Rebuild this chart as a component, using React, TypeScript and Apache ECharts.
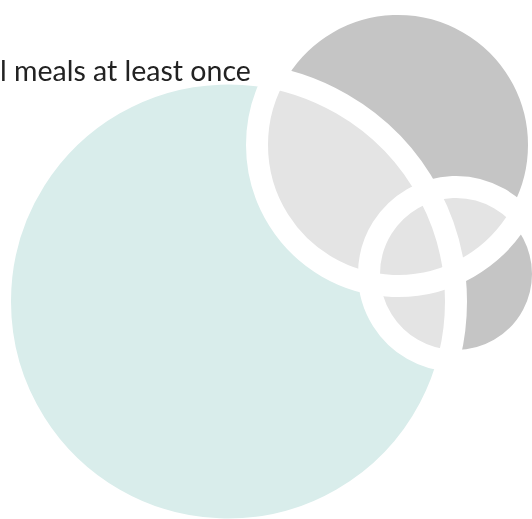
import React, { useEffect, useRef } from "react";
import * as echarts from "echarts";

// Sets of the Venn diagram (chart units: 1 unit = 1 px on both hidden axes)
const setNames = ["Set A", "Set B", "Set C"];
const setCenterX = [228, 398, 456];
const setCenterY = [301.5, 145, 274];
const setRadius = [228, 141, 87];
const titleText = "l meals at least once";

const ONLY_COLORS = ["#d9edeb", "#c5c5c5", "#c5c5c5"];
const OVERLAP_COLOR = "#e4e4e4";

type C = { cx: number; cy: number; r: number };

function lens(a: C, b: C): number[][] {
  const pts: number[][] = [];
  const N = 720;
  for (let k = 0; k < N; k++) {
    const t = (k / N) * Math.PI * 2;
    const x = a.cx + a.r * Math.cos(t);
    const y = a.cy + a.r * Math.sin(t);
    if (Math.hypot(x - b.cx, y - b.cy) <= b.r) pts.push([x, y]);
  }
  for (let k = 0; k < N; k++) {
    const t = (k / N) * Math.PI * 2;
    const x = b.cx + b.r * Math.cos(t);
    const y = b.cy + b.r * Math.sin(t);
    if (Math.hypot(x - a.cx, y - a.cy) <= a.r) pts.push([x, y]);
  }
  if (!pts.length) return pts;
  let mx = 0, my = 0;
  pts.forEach((p) => { mx += p[0]; my += p[1]; });
  mx /= pts.length; my /= pts.length;
  pts.sort((p, q) => Math.atan2(p[1] - my, p[0] - mx) - Math.atan2(q[1] - my, q[0] - mx));
  return pts;
}

export default function App() {
  const ref = useRef<HTMLDivElement>(null);
  useEffect(() => {
    if (!ref.current) return;
    const chart = echarts.init(ref.current, undefined, { renderer: "svg" });
    const data = setNames.map((n, i) => ({ name: n, value: [setCenterX[i], setCenterY[i], setRadius[i]] }));
    chart.setOption({
      animation: false,
      title: {
        text: titleText,
        left: 0,
        top: 55,
        padding: 0,
        textStyle: { fontFamily: "Lato", fontSize: 28.5, fontWeight: "normal", color: "#222222" },
      },
      grid: { left: 0, right: 0, top: 0, bottom: 0 },
      xAxis: { type: "value", min: 0, max: 532, show: false },
      yAxis: { type: "value", min: 0, max: 519, inverse: true, show: false },
      series: [
        {
          type: "custom",
          coordinateSystem: "cartesian2d",
          data: [0],
          silent: true,
          renderItem: (params: any, api: any) => {
            const circles: C[] = data.map((d) => {
              const c = api.coord([d.value[0], d.value[1]]);
              const r = api.size([d.value[2], 0])[0];
              return { cx: c[0], cy: c[1], r };
            });
            const children: any[] = [];
            circles.forEach((c, i) => {
              children.push({ type: "circle", shape: c, style: { fill: ONLY_COLORS[i] } });
            });
            for (let i = 0; i < circles.length; i++) {
              for (let j = i + 1; j < circles.length; j++) {
                const pts = lens(circles[i], circles[j]);
                if (pts.length > 2) children.push({ type: "polygon", shape: { points: pts }, style: { fill: OVERLAP_COLOR } });
              }
            }
            circles.forEach((c) => {
              children.push({ type: "circle", shape: c, style: { fill: "none", stroke: "#ffffff", lineWidth: 22 } });
            });
            return { type: "group", children };
          },
        },
      ],
    });
    return () => chart.dispose();
  }, []);
  return <div ref={ref} style={{ position: "fixed", left: 0, top: 0, width: 532, height: 519 }} />;
}
